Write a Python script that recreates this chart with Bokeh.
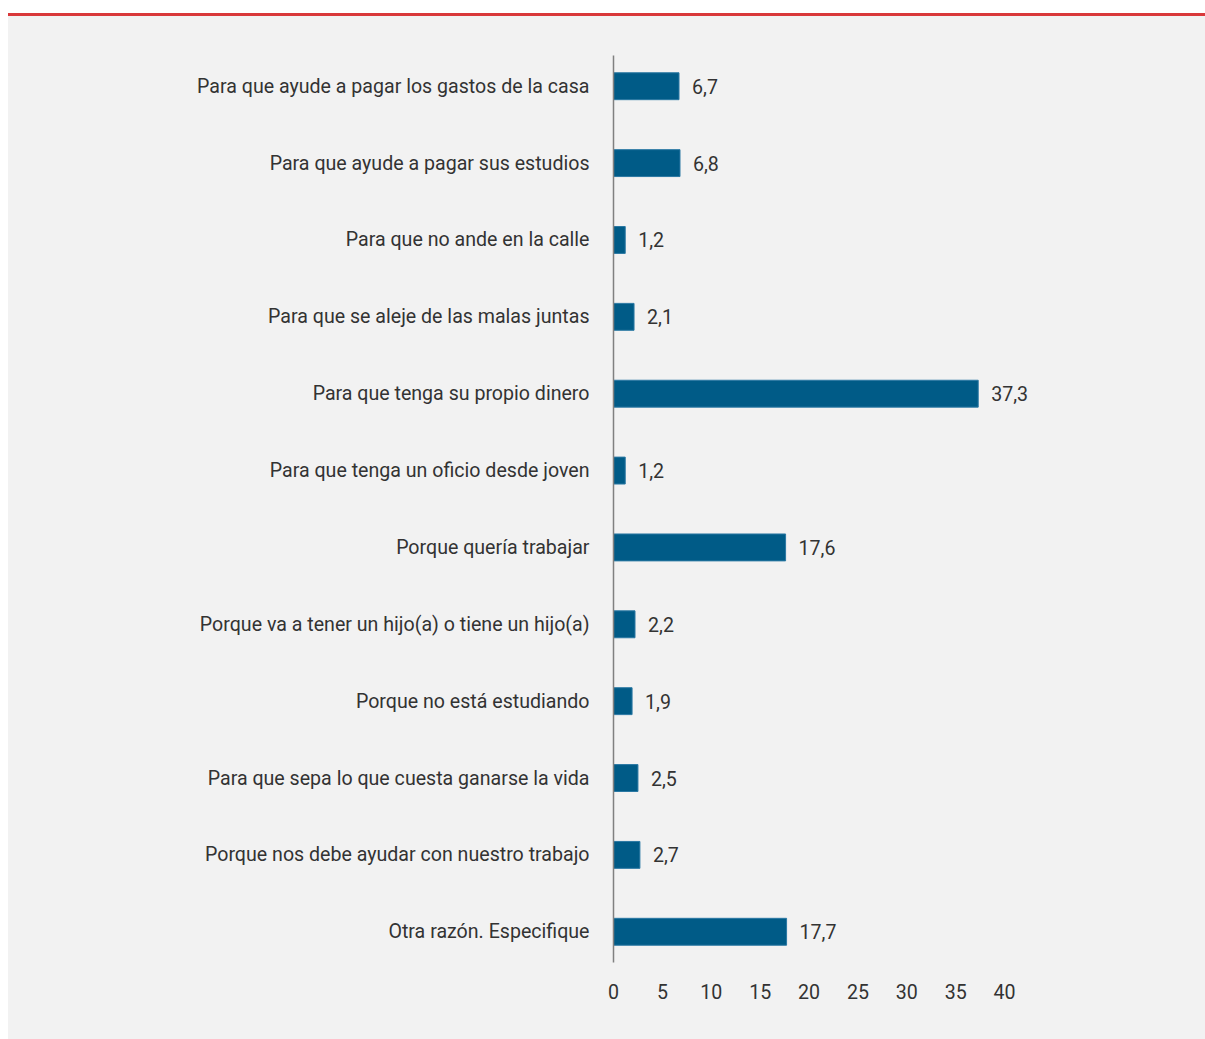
from bokeh.plotting import figure
from bokeh.models import ColumnDataSource, FactorRange, Range1d, Div, FixedTicker
from bokeh.layouts import column
from bokeh.embed import file_html
from bokeh.resources import INLINE
from bokeh.core.properties import value

categories = [
    "Para que ayude a pagar los gastos de la casa",
    "Para que ayude a pagar sus estudios",
    "Para que no ande en la calle",
    "Para que se aleje de las malas juntas",
    "Para que tenga su propio dinero",
    "Para que tenga un oficio desde joven",
    "Porque quería trabajar",
    "Porque va a tener un hijo(a) o tiene un hijo(a)",
    "Porque no está estudiando",
    "Para que sepa lo que cuesta ganarse la vida",
    "Porque nos debe ayudar con nuestro trabajo",
    "Otra razón. Especifique",
]
values = [6.7, 6.8, 1.2, 2.1, 37.3, 1.2, 17.6, 2.2, 1.9, 2.5, 2.7, 17.7]
x_ticks = [0, 5, 10, 15, 20, 25, 30, 35, 40]

FONT = "Roboto"
TEXT_COLOR = "#333333"
BG = "#f2f2f2"
FS = "19.6px"

labels = [f"{v:.1f}".replace(".", ",") for v in values]
src = ColumnDataSource(dict(cat=categories, val=values, lab=labels))

p = figure(
    width=1197, height=1023,
    y_range=FactorRange(factors=list(reversed(categories)), range_padding=-0.0167),
    x_range=Range1d(0, 45),
    output_backend="svg", toolbar_location=None,
    min_border_left=605, min_border_right=152, min_border_top=39, min_border_bottom=77,
    background_fill_color=None, border_fill_color=None,
    outline_line_color=None,
    styles={"background-color": BG},
)
p.hbar(y="cat", right="val", left=0, height=0.35, source=src,
       fill_color="#005b87", line_color="#2a78a3", line_width=1)
p.text(x="val", y="cat", text="lab", source=src, x_offset=13,
       text_baseline="middle", text_align="left", text_font=value(FONT),
       text_font_size=FS, text_color=TEXT_COLOR)

p.xgrid.visible = False
p.ygrid.visible = False

p.xaxis.ticker = FixedTicker(ticks=x_ticks)
p.xaxis.axis_line_color = None
p.xaxis.major_tick_line_color = None
p.xaxis.minor_tick_line_color = None
p.xaxis.major_label_standoff = 15
p.xaxis.major_label_text_font = FONT
p.xaxis.major_label_text_font_size = FS
p.xaxis.major_label_text_color = TEXT_COLOR

p.yaxis.axis_line_color = "#808080"
p.yaxis.axis_line_width = 1.5
p.yaxis.major_tick_line_color = None
p.yaxis.minor_tick_line_color = None
p.yaxis.major_label_standoff = 18
p.yaxis.major_label_text_font = FONT
p.yaxis.major_label_text_font_size = FS
p.yaxis.major_label_text_color = TEXT_COLOR

top = Div(text="", width=1197, height=3, margin=(5, 0, 0, 0),
          styles={"background-color": "#d9383a"})

layout = column(top, p, spacing=0, margin=(8, 0, 0, 8))
open("out.html", "w").write(file_html(layout, INLINE))
